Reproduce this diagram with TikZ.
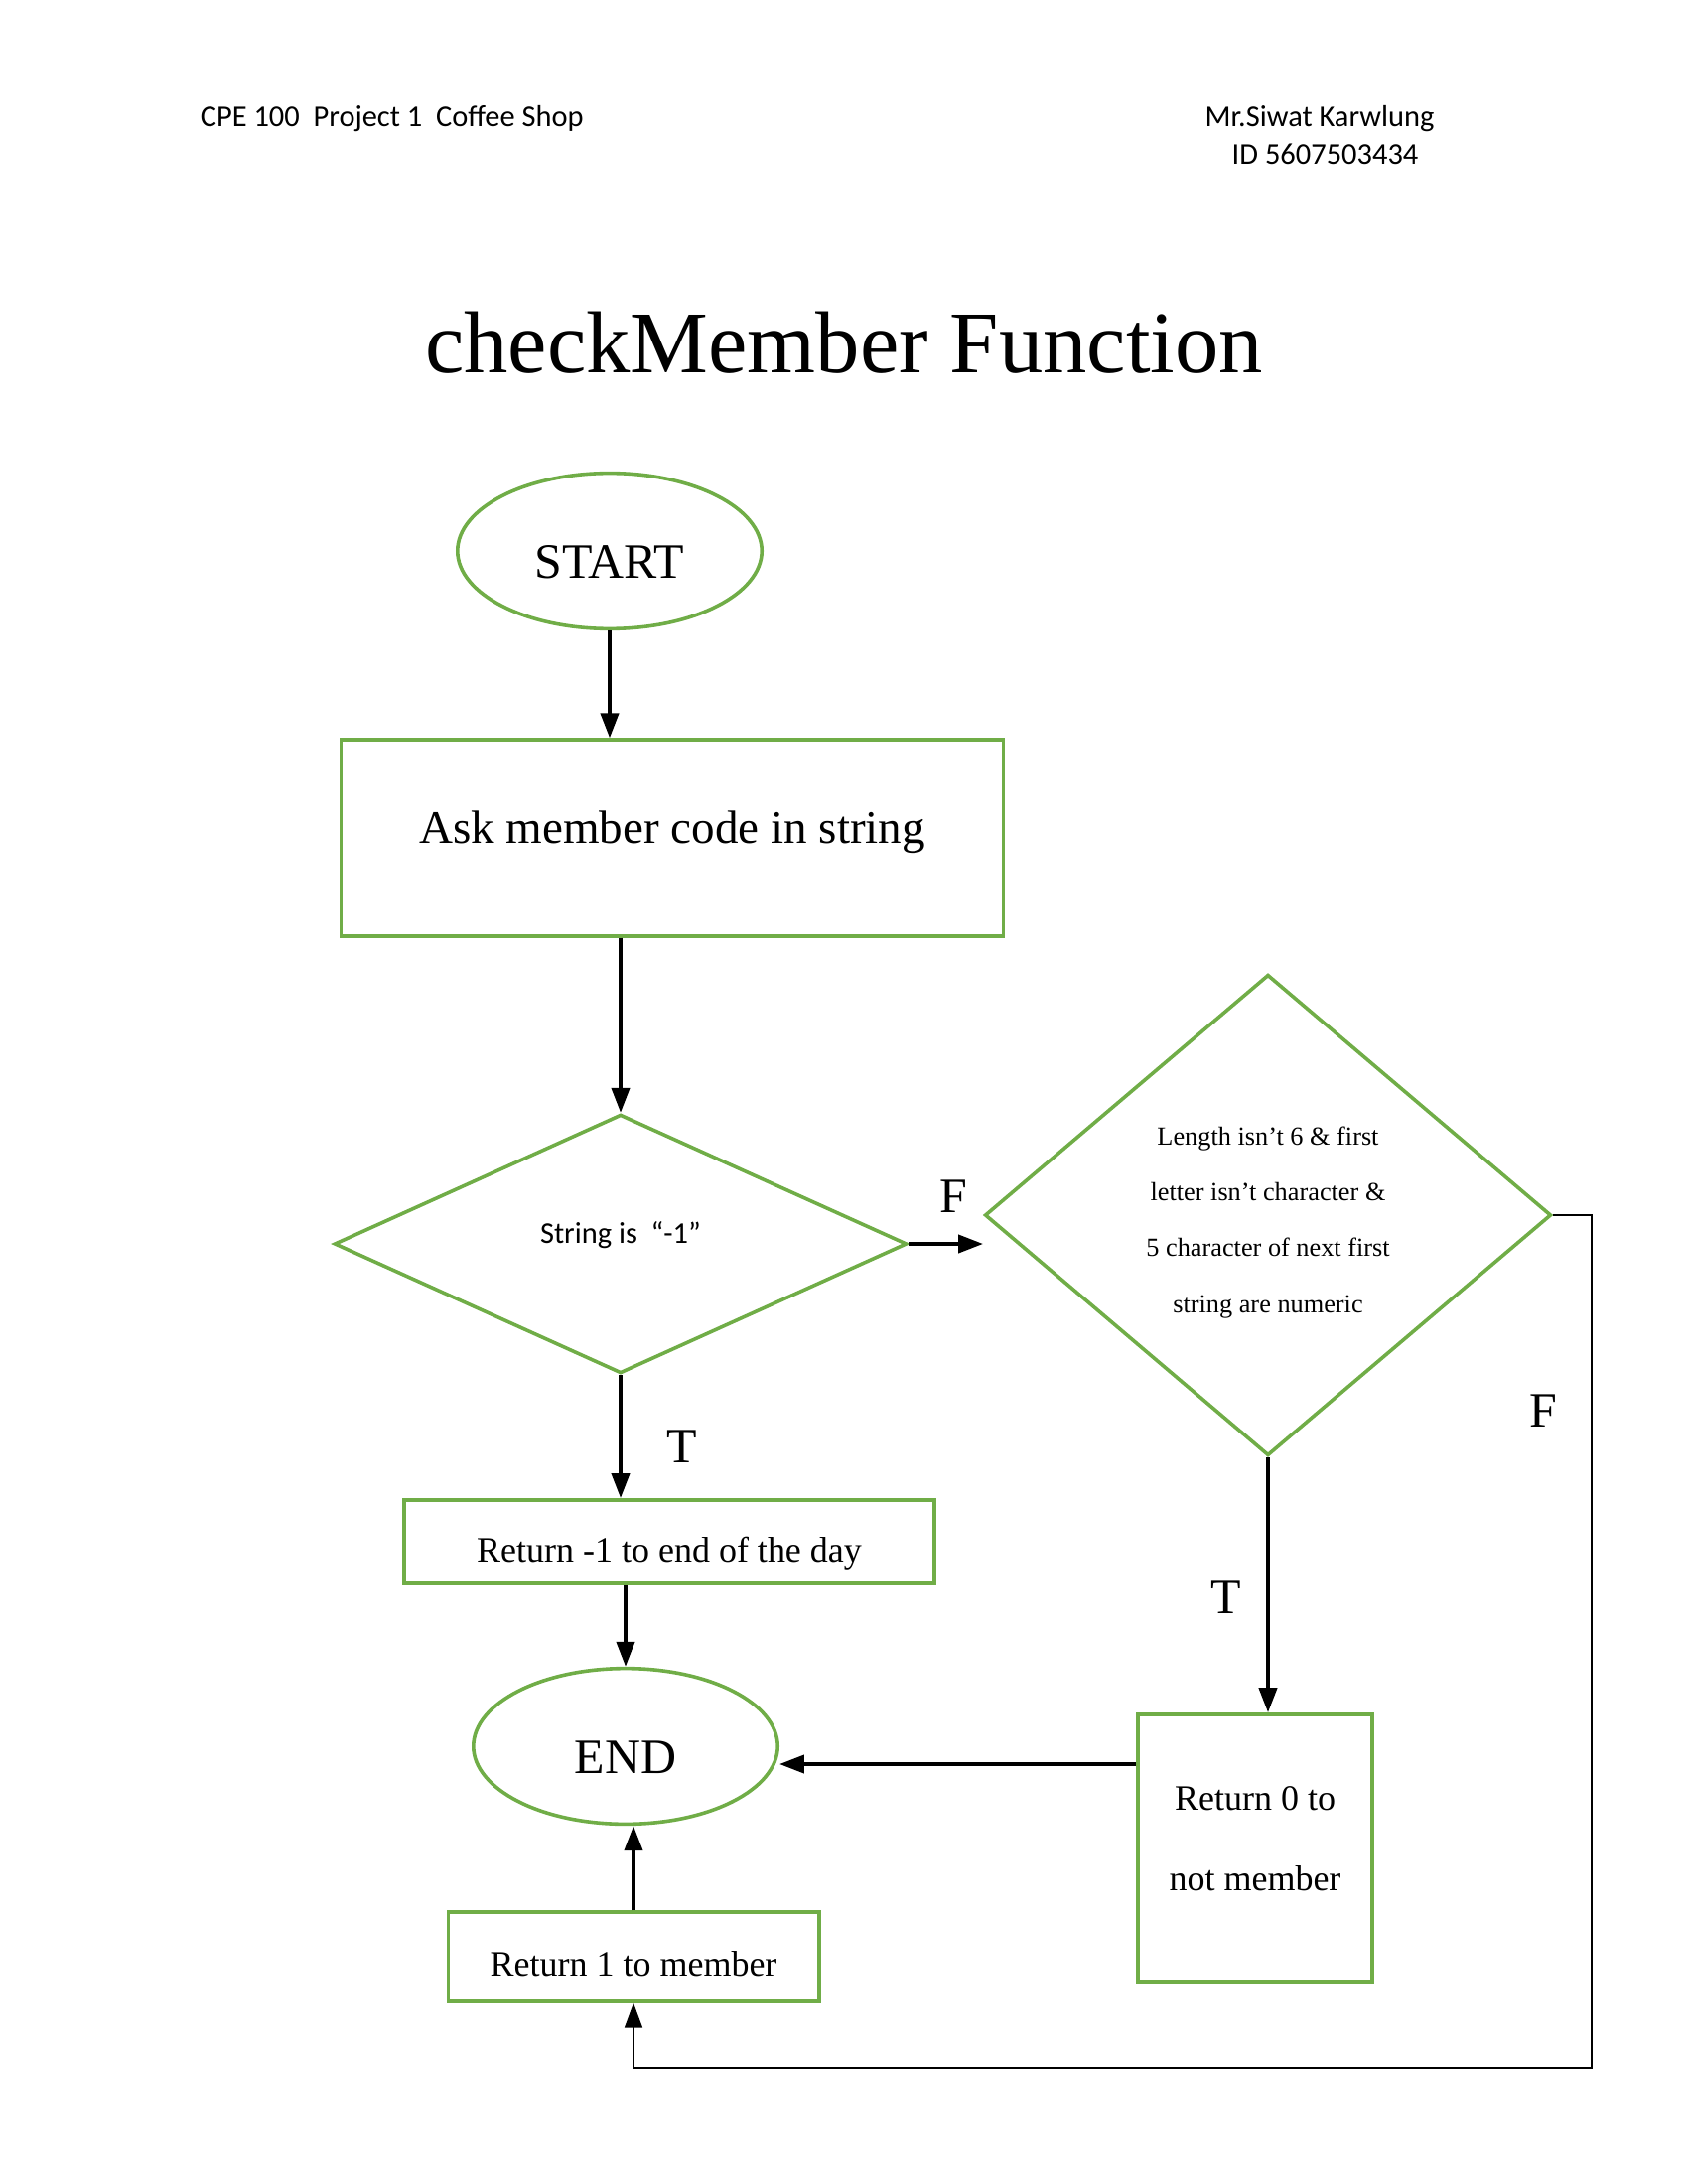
\documentclass[tikz,border=0pt]{standalone}
\usepackage{fontspec}
\setmainfont{Liberation Serif}
\newfontfamily\calibri{Carlito}
\usetikzlibrary{shapes.geometric,arrows.meta}
\definecolor{boxgreen}{RGB}{112,173,71}

\begin{document}
\begin{tikzpicture}[x=0.0127cm,y=-0.0127cm,
  term/.style={draw=boxgreen, line width=1.3pt, ellipse, minimum width=3.89cm, minimum height=1.99cm, text height=20pt, text depth=0pt, font=\fontsize{18}{18}\selectfont},
  proc/.style={draw=boxgreen, line width=1.3pt, rectangle, font=\fontsize{13}{13}\selectfont},
  test/.style={draw=boxgreen, line width=1.3pt, diamond, inner sep=0pt},
  flow/.style={line width=1.4pt, -{Triangle[length=9pt,width=6.5pt]}},
  tf/.style={font=\fontsize{18}{18}\selectfont, inner sep=0pt}]
\useasboundingbox (0,0) rectangle (1700,2200);

\node[anchor=west, font=\calibri\fontsize{11}{13.7}\selectfont] (course) at (192,120) {CPE 100\ \ Project 1\ \ Coffee Shop};
\node[align=center, font=\calibri\fontsize{11}{13.7}\selectfont] (author) at (1329,136) {Mr.Siwat Karwlung\\\hspace*{4pt}ID 5607503434};
\node[anchor=base, font=\fontsize{32}{32}\selectfont] (title) at (850,376) {checkMember Function};

\node[term] (start) at (614,555) {START};
\node[proc, minimum width=8.47cm, minimum height=2.51cm, text height=11.6pt, text depth=7.7pt, font=\fontsize{17}{17}\selectfont] (ask) at (677,844) {Ask member code in string};
\node[test, minimum width=7.32cm, minimum height=3.31cm, text height=7.7pt, text depth=8.3pt, font=\calibri\fontsize{11}{11}\selectfont] (chk) at (625,1253) {String is\ \ “-1”};
\node[test, minimum width=7.24cm, minimum height=6.15cm, align=center, font=\fontsize{9.5}{20.3}\selectfont] (valid) at (1277,1224) {\rule{0pt}{12pt}Length isn’t 6 \& first\\letter isn’t character \&\\5 character of next first\\string are numeric};
\node[proc, minimum width=6.78cm, minimum height=1.07cm, text height=17.9pt, text depth=2.8pt] (retday) at (674,1553) {Return -1 to end of the day};
\node[term] (stop) at (630,1759) {END};
\node[proc, minimum width=3.0cm, minimum height=3.43cm, align=center, font=\fontsize{13}{29}\selectfont] (retzero) at (1264,1862) {Return 0 to\\not member\rule[-7.2pt]{0pt}{7.2pt}};
\node[proc, minimum width=4.74cm, minimum height=1.14cm, text height=17pt, text depth=2.8pt] (retone) at (638,1971) {Return 1 to member};
\coordinate (loopcorner) at (1603,2083);

\draw[flow] (start.south) -- (start.south |- ask.north);
\draw[flow] (ask.south -| chk.north) -- (chk.north);
\draw[flow] (chk.east) -- node[tf, above=0.37cm, xshift=0.1cm] {F} (chk.east -| valid.west);
\draw[flow] (chk.south) -- node[tf, right=0.56cm, pos=0.58] {T} (chk.south |- retday.north);
\draw[flow] (retday.south -| stop.north) -- (stop.north);
\draw[flow] (valid.south) -- node[tf, left=0.32cm, pos=0.55] {T} (valid.south |- retzero.north);
\draw[flow] ([yshift=30.7pt]retzero.west) -- ([yshift=30.7pt]retzero.west -| stop.east);
\draw[flow] (retone.north) -- (retone.north |- stop.south);
% \draw[flow] (valid.east) -| (retone.south);
\draw[line width=0.6pt, -{Triangle[length=9pt,width=6.5pt]}] (valid.east) -- (valid.east -| loopcorner) -- node[tf, left=0.43cm, pos=0.23] {F} (loopcorner) -| (retone.south);
\end{tikzpicture}
\end{document}
